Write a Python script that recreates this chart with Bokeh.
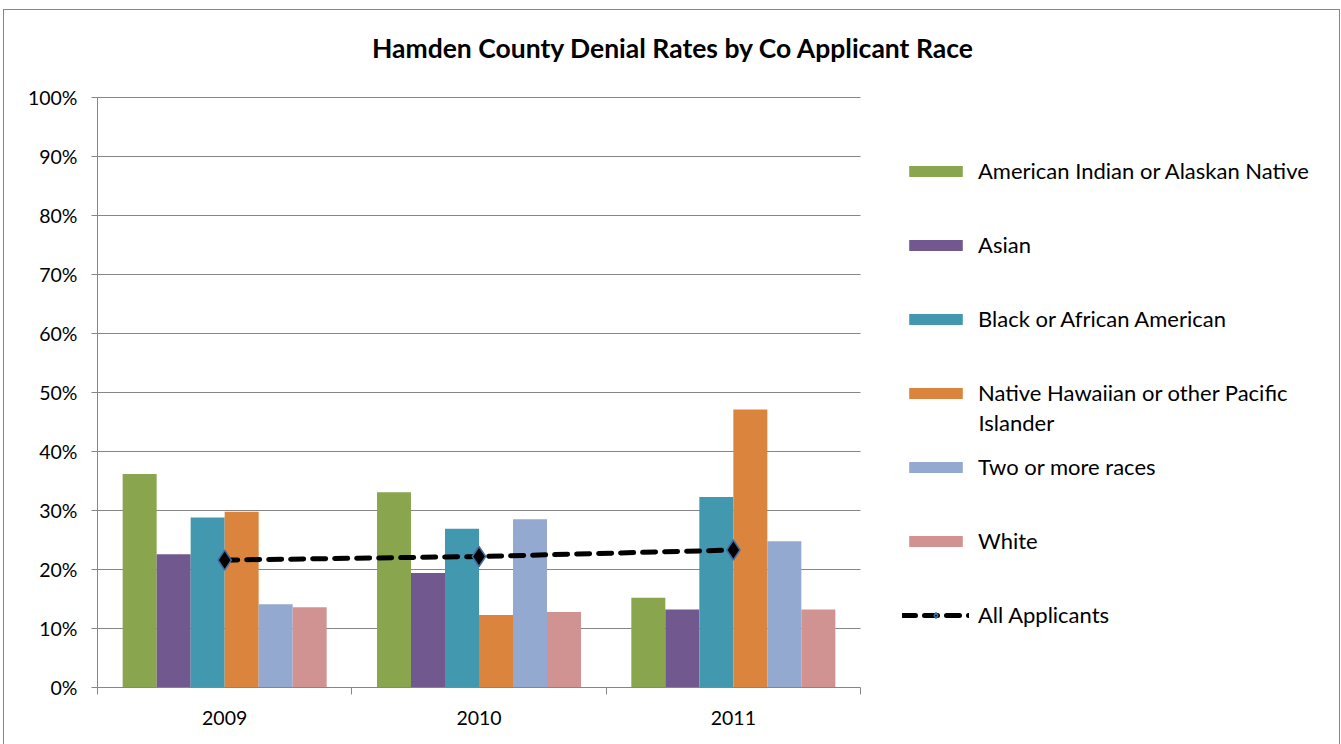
from bokeh.plotting import figure
from bokeh.models import (ColumnDataSource, FixedTicker, Legend, LegendItem, Label,
                          Range1d, NumeralTickFormatter)
from bokeh.embed import file_html
from bokeh.resources import INLINE

# ---- data ----
years = ["2009", "2010", "2011"]
series_names = ["American Indian or Alaskan Native", "Asian", "Black or African American",
                "Native Hawaiian or other Pacific", "Two or more races", "White"]
american_indian = [0.362, 0.331, 0.152]
asian = [0.226, 0.194, 0.132]
black = [0.288, 0.269, 0.323]
hawaiian = [0.298, 0.123, 0.471]
two_or_more = [0.141, 0.285, 0.248]
white = [0.136, 0.128, 0.132]
all_applicants = [0.216, 0.222, 0.233]
y_ticks = [0.0, 0.1, 0.2, 0.3, 0.4, 0.5, 0.6, 0.7, 0.8, 0.9, 1.0]

colors = ["#89A54E", "#71588F", "#4198AF", "#DB843D", "#93A9CF", "#D19392"]
series = [american_indian, asian, black, hawaiian, two_or_more, white]

FONT = "Lato"
GRID = "#868686"

FIG_W, FIG_H = 1335, 734
LEFT, BOTTOM = 93, 57
PLOT_W, PLOT_H = 763, 590         # size of the plotted area (3 categories, 0-100%)
FRAME_W = FIG_W - LEFT            # frame extends to the right edge (legend lives inside)
FRAME_H = FIG_H - BOTTOM          # and to the top edge (title lives inside)
n = len(years)
x_end = n * FRAME_W / PLOT_W
y_end = FRAME_H / PLOT_H

p = figure(width=FIG_W, height=FIG_H, output_backend="svg", toolbar_location=None,
           x_range=Range1d(0, x_end), y_range=Range1d(0, y_end),
           min_border_left=LEFT, min_border_right=0, min_border_top=0, min_border_bottom=BOTTOM)
p.outline_line_color = None
p.background_fill_color = "white"
p.border_fill_color = "white"

centers = [i + 0.5 for i in range(n)]
bar_w = 0.1337
items = []
for k, (name, vals, col) in enumerate(zip(series_names, series, colors)):
    xs = [c + (k - 2.5) * bar_w for c in centers]
    src = ColumnDataSource(dict(x=xs, top=vals))
    r = p.vbar(x="x", top="top", width=bar_w, source=src, fill_color=col, line_color=None)
    items.append(LegendItem(label=name, renderers=[r]))

line_src = ColumnDataSource(dict(x=centers, y=all_applicants))
lr = p.line(x="x", y="y", source=line_src, line_color="black", line_width=5,
            line_dash="13 9", line_cap="round")
mr = p.scatter(x="x", y="y", source=line_src, marker="diamond", size=20,
               fill_color="black", line_color="#3F6EA8", line_width=1.5)
items.append(LegendItem(label="All Applicants", renderers=[lr, mr]))

# axes
p.yaxis.bounds = (0, 1)
p.yaxis.ticker = FixedTicker(ticks=y_ticks)
p.yaxis.formatter = NumeralTickFormatter(format="0%")
p.yaxis.axis_line_color = GRID
p.yaxis.major_tick_line_color = GRID
p.yaxis.major_tick_out = 6
p.yaxis.major_tick_in = 0
p.yaxis.minor_tick_line_color = None
p.yaxis.major_label_text_font = FONT
p.yaxis.major_label_text_font_size = "19.5px"
p.yaxis.major_label_text_color = "black"
p.yaxis.major_label_standoff = 14

p.xaxis.bounds = (0, n)
p.xaxis.ticker = FixedTicker(ticks=centers, minor_ticks=list(range(n + 1)))
p.xaxis.major_label_overrides = {c: y for c, y in zip(centers, years)}
p.xaxis.axis_line_color = GRID
p.xaxis.major_tick_line_color = None
p.xaxis.major_tick_out = 0
p.xaxis.major_tick_in = 0
p.xaxis.minor_tick_line_color = GRID
p.xaxis.minor_tick_out = 7
p.xaxis.minor_tick_in = 0
p.xaxis.major_label_text_font = FONT
p.xaxis.major_label_text_font_size = "19.5px"
p.xaxis.major_label_text_color = "black"
p.xaxis.major_label_standoff = 16

p.xgrid.grid_line_color = None
p.ygrid.bounds = (0, 1)
try:
    p.ygrid.cross_bounds = (0, n)
    p.ygrid.grid_line_color = GRID
    p.ygrid.grid_line_width = 1
except AttributeError:
    p.ygrid.grid_line_color = None
    p.segment(x0=[0] * len(y_ticks), x1=[n] * len(y_ticks), y0=y_ticks, y1=y_ticks,
              line_color=GRID, line_width=1, level="underlay")

# title (inside the tall frame, above the plotted area)
p.add_layout(Label(x=576, y=640, x_units="screen", y_units="screen",
                   text="Hamden County Denial Rates by Co Applicant Race",
                   text_font=FONT, text_font_size="26.5px", text_font_style="bold",
                   text_align="center", text_baseline="middle", text_color="black"))

# legend (inside the wide frame, to the right of the plotted area)
legend = Legend(items=items, location=(805, 59), padding=0, margin=0,
                glyph_width=67, glyph_height=14, label_height=27, spacing=47,
                label_standoff=9, border_line_color=None, background_fill_alpha=0,
                label_text_font=FONT, label_text_font_size="22px", label_text_color="black")
p.add_layout(legend, "center")
p.add_layout(Label(x=881, y=265, x_units="screen", y_units="screen", text="Islander",
                   text_font=FONT, text_font_size="22px", text_baseline="middle",
                   text_color="black"))

p.styles = {"outline": "1px solid #868686", "margin-left": "4px", "margin-top": "10px"}

open("out.html", "w").write(file_html(p, INLINE))
